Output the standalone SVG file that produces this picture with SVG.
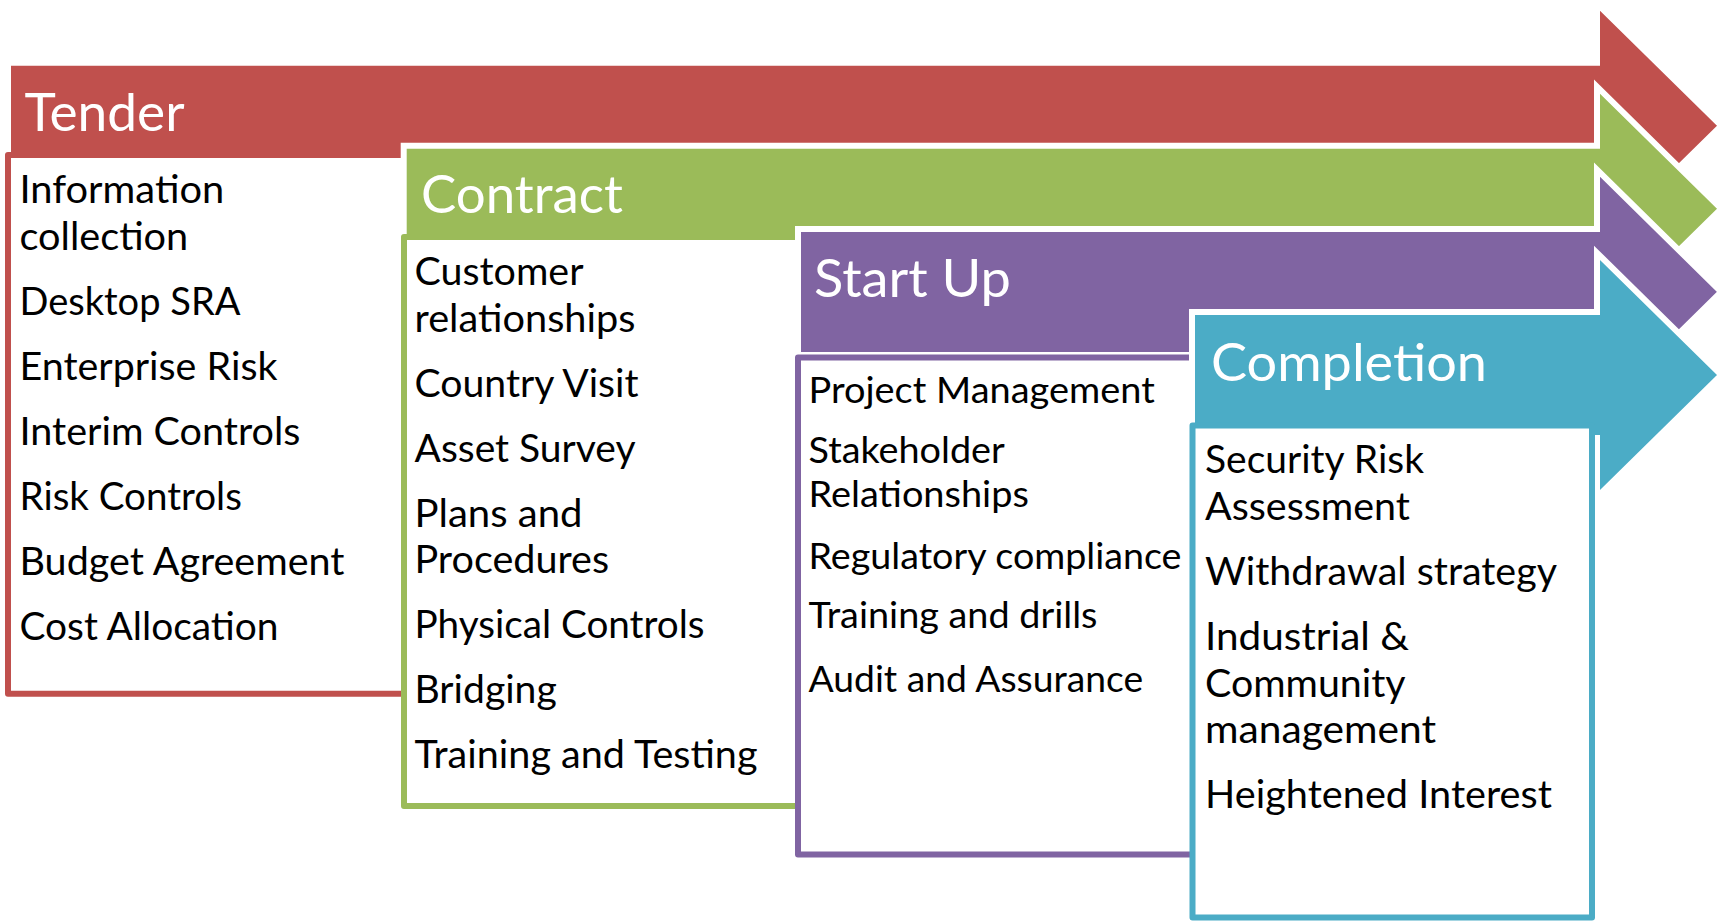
<svg xmlns="http://www.w3.org/2000/svg" width="1718" height="921" viewBox="0 0 1718 921">
<style>
.arrow{stroke:#ffffff;stroke-width:6;stroke-linejoin:miter}
.box{fill:#ffffff;stroke-width:6;stroke-linejoin:round}
.hd{font-family:Lato,"Open Sans",sans-serif;font-size:52.5px;fill:#ffffff}
.it{font-family:Lato,"Open Sans",sans-serif;font-size:38px;fill:#000000}
.it2{font-family:Lato,"Open Sans",sans-serif;font-size:36px;fill:#000000}
</style>
<rect width="1718" height="921" fill="#ffffff"/>
<g id="connectors"/>
<g id="tender">
<polygon class="arrow" fill="#C0504D" points="8,62.7 1597,62.7 1597,3.5 1721.2,125.7 1597,247.9 1597,188.7 8,188.7"/>
<text class="hd" x="24.5" y="131" textLength="160" lengthAdjust="spacingAndGlyphs">Tender</text>
<rect class="box" stroke="#C0504D" x="8" y="155" width="400" height="538.7"/>
<text class="it" x="19.5" y="203.3" textLength="204.7" lengthAdjust="spacingAndGlyphs">Information</text>
<text class="it" x="19.5" y="250" textLength="168.7" lengthAdjust="spacingAndGlyphs">collection</text>
<text class="it" x="19.5" y="315" textLength="221" lengthAdjust="spacingAndGlyphs">Desktop SRA</text>
<text class="it" x="19.5" y="380" textLength="258" lengthAdjust="spacingAndGlyphs">Enterprise Risk</text>
<text class="it" x="19.5" y="445" textLength="281" lengthAdjust="spacingAndGlyphs">Interim Controls</text>
<text class="it" x="19.5" y="510" textLength="222.4" lengthAdjust="spacingAndGlyphs">Risk Controls</text>
<text class="it" x="19.5" y="575" textLength="325" lengthAdjust="spacingAndGlyphs">Budget Agreement</text>
<text class="it" x="19.5" y="640" textLength="259" lengthAdjust="spacingAndGlyphs">Cost Allocation</text>
</g>
<g id="contract">
<polygon class="arrow" fill="#9BBB59" points="403.7,145.8 1597,145.8 1597,86.6 1721.2,208.8 1597,331 1597,271.8 403.7,271.8"/>
<text class="hd" x="421" y="213.3" textLength="202" lengthAdjust="spacingAndGlyphs">Contract</text>
<rect class="box" stroke="#9BBB59" x="404" y="237" width="400" height="569"/>
<text class="it" x="414.5" y="284.9" textLength="169" lengthAdjust="spacingAndGlyphs">Customer</text>
<text class="it" x="414.5" y="331.6" textLength="221" lengthAdjust="spacingAndGlyphs">relationships</text>
<text class="it" x="414.5" y="396.6" textLength="224" lengthAdjust="spacingAndGlyphs">Country Visit</text>
<text class="it" x="414.5" y="461.6" textLength="221" lengthAdjust="spacingAndGlyphs">Asset Survey</text>
<text class="it" x="414.5" y="526.6" textLength="168" lengthAdjust="spacingAndGlyphs">Plans and</text>
<text class="it" x="414.5" y="573.3" textLength="194.6" lengthAdjust="spacingAndGlyphs">Procedures</text>
<text class="it" x="414.5" y="638.3" textLength="290" lengthAdjust="spacingAndGlyphs">Physical Controls</text>
<text class="it" x="414.5" y="703.3" textLength="142.3" lengthAdjust="spacingAndGlyphs">Bridging</text>
<text class="it" x="414.5" y="768.3" textLength="343" lengthAdjust="spacingAndGlyphs">Training and Testing</text>
</g>
<g id="startup">
<polygon class="arrow" fill="#8064A2" points="798,228.9 1597,228.9 1597,169.7 1721.2,291.9 1597,414.1 1597,354.9 798,354.9"/>
<text class="hd" x="814" y="297.3" textLength="197" lengthAdjust="spacingAndGlyphs">Start Up</text>
<rect class="box" stroke="#8064A2" x="798" y="357.5" width="400" height="497"/>
<text class="it2" x="808.5" y="403.3" textLength="346.3" lengthAdjust="spacingAndGlyphs">Project Management</text>
<text class="it2" x="808.5" y="463.3" textLength="196.3" lengthAdjust="spacingAndGlyphs">Stakeholder</text>
<text class="it2" x="808.5" y="507.3" textLength="220.3" lengthAdjust="spacingAndGlyphs">Relationships</text>
<text class="it2" x="808.5" y="569.3" textLength="373" lengthAdjust="spacingAndGlyphs">Regulatory compliance</text>
<text class="it2" x="808.5" y="628.3" textLength="289" lengthAdjust="spacingAndGlyphs">Training and drills</text>
<text class="it2" x="808.5" y="691.7" textLength="334.7" lengthAdjust="spacingAndGlyphs">Audit and Assurance</text>
</g>
<g id="completion">
<polygon class="arrow" fill="#4BACC6" points="1192,312 1597,312 1597,252.8 1721.2,375 1597,497.2 1597,438 1192,438"/>
<text class="hd" x="1211" y="381" textLength="276" lengthAdjust="spacingAndGlyphs">Completion</text>
<rect class="box" stroke="#4BACC6" x="1192.5" y="425.5" width="399.5" height="492"/>
<text class="it" x="1205" y="473" textLength="219" lengthAdjust="spacingAndGlyphs">Security Risk</text>
<text class="it" x="1205" y="520" textLength="205" lengthAdjust="spacingAndGlyphs">Assessment</text>
<text class="it" x="1205" y="585" textLength="352" lengthAdjust="spacingAndGlyphs">Withdrawal strategy</text>
<text class="it" x="1205" y="650" textLength="204" lengthAdjust="spacingAndGlyphs">Industrial &amp;</text>
<text class="it" x="1205" y="696.7" textLength="200.6" lengthAdjust="spacingAndGlyphs">Community</text>
<text class="it" x="1205" y="743.3" textLength="231" lengthAdjust="spacingAndGlyphs">management</text>
<text class="it" x="1205" y="808.3" textLength="347" lengthAdjust="spacingAndGlyphs">Heightened Interest</text>
</g>
</svg>
